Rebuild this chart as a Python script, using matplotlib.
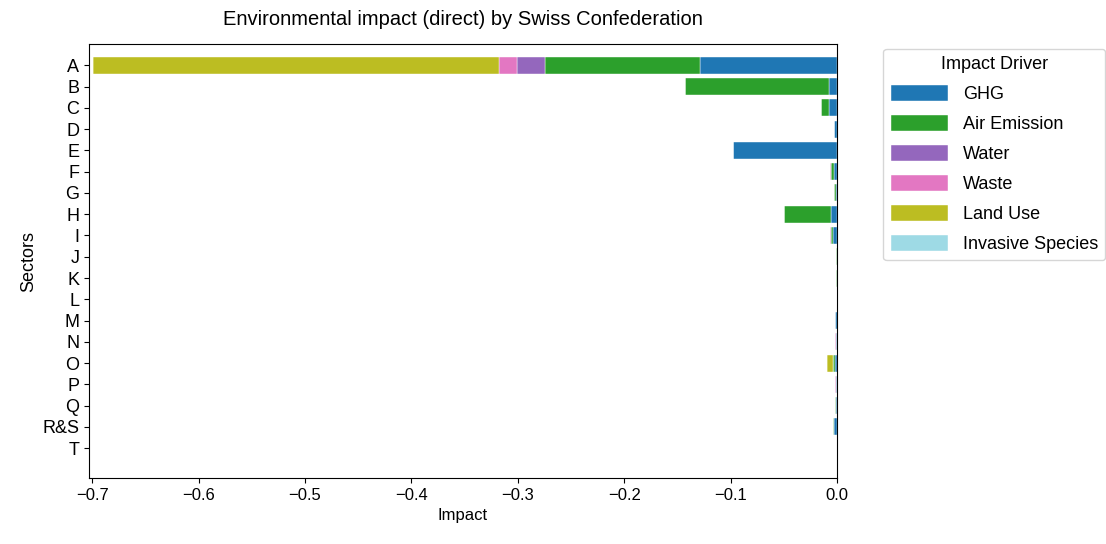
import matplotlib
matplotlib.use("Agg")
import matplotlib.pyplot as plt
import numpy as np

plt.rcParams['font.family'] = ['Liberation Sans', 'DejaVu Sans']
plt.rcParams['font.size'] = 12

sectors = ["A","B","C","D","E","F","G","H","I","J","K","L","M","N","O","P","Q","R&S","T"]
drivers = ["GHG","Air Emission","Water","Waste","Land Use","Invasive Species"]
colors = ["#1f77b4","#2ca02c","#9467bd","#e377c2","#bcbd22","#9edae5"]
ghg   = [-0.1286,-0.0075,-0.0075,-0.003,-0.0976,-0.003,-0.0005,-0.0055,-0.004,-0.0003,-0.0003,0,-0.0015,-0.0005,-0.002,-0.0005,-0.0005,-0.003,0]
air   = [-0.146,-0.135,-0.0075,0,0,-0.003,-0.002,-0.044,-0.002,-0.001,-0.001,0,0,0,-0.002,0,-0.0018,-0.001,0]
water = [-0.026,0,0,0,0,0,0,0,0,0,0,0,0,0,0,0,0,0,0]
waste = [-0.017,0,0,0,0,-0.001,0,0,-0.001,0,0,0,0,-0.0015,0,-0.0015,0,0,0]
land  = [-0.382,0,0,0,0,0,0,0,0,0,0,0,0,0,-0.005,0,0,0,0]
inv   = [0]*19
series = [ghg, air, water, waste, land, inv]

fig = plt.figure(figsize=(11.06,5.44), dpi=100)
ax = fig.add_axes([89/1106, 66/544, 748/1106, 434/544])
y = np.arange(len(sectors))
left = np.zeros(len(sectors))
for name, vals, c in zip(drivers, series, colors):
    v = np.array(vals)
    ax.barh(y, v, left=left, color=c, label=name, height=0.8, edgecolor='white', linewidth=0.3)
    left += v
ax.set_yticks(y)
ax.set_yticklabels(sectors, fontsize=13)
ax.set_ylim(19.4, -1.0)
ax.set_xlim(-0.703, 0.0)
ax.tick_params(axis='x', labelsize=12)
ax.set_xlabel("Impact", fontsize=12)
ax.set_ylabel("Sectors", fontsize=13)
ax.set_title("Environmental impact (direct) by Swiss Confederation", fontsize=14.5, pad=14)
ax.legend(title="Impact Driver", loc='upper left', bbox_to_anchor=(1.05, 1.01), fontsize=13, title_fontsize=13,
          handlelength=3.2, handleheight=1.0, labelspacing=0.65)
fig.savefig("out.png", dpi=100)
